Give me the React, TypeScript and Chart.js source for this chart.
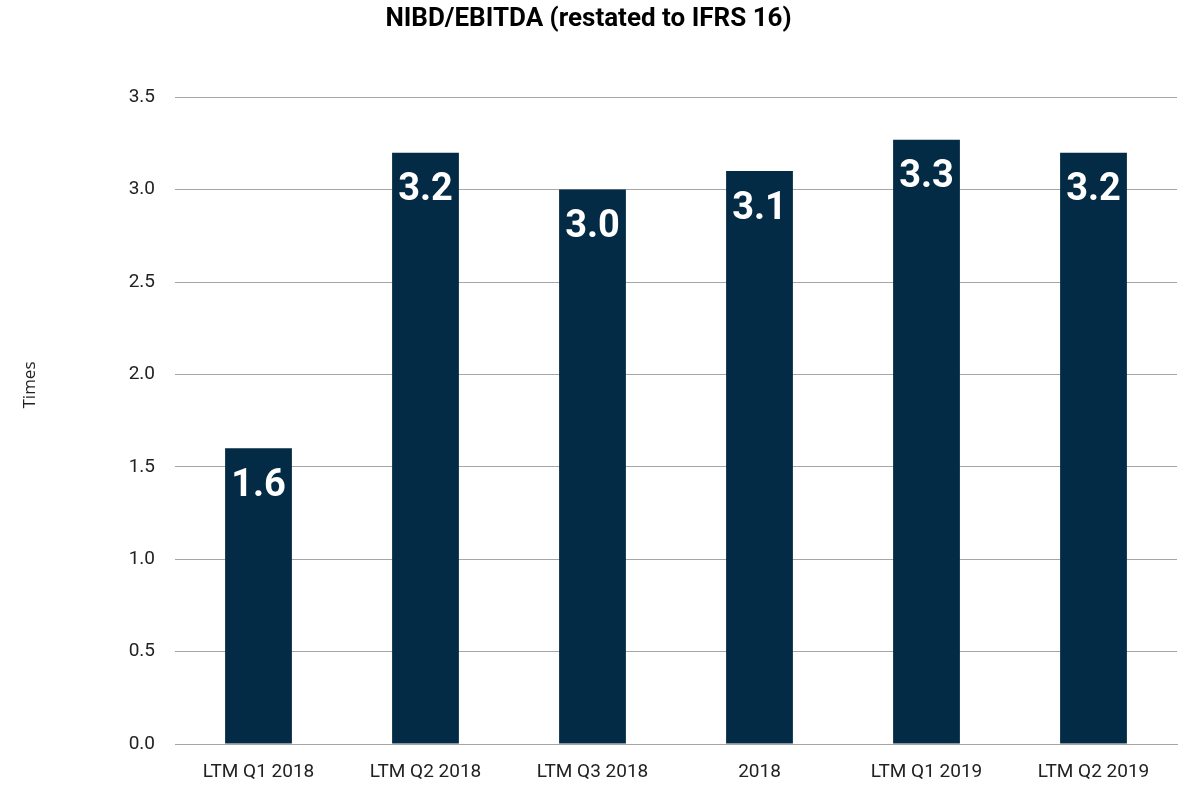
import React, { useEffect, useRef } from "react";
import { Chart, registerables } from "chart.js";

Chart.register(...registerables);

const categories = ["LTM Q1 2018", "LTM Q2 2018", "LTM Q3 2018", "2018", "LTM Q1 2019", "LTM Q2 2019"];
const values = [1.6, 3.2, 3.0, 3.1, 3.27, 3.2];
const chartTitle = "NIBD/EBITDA (restated to IFRS 16)";
const yAxisTitle = "Times";

const BAR_COLOR = "#042b45";
const GRID_COLOR = "#a6a6a6";
const FONT = "Roboto, 'DejaVu Sans', sans-serif";

const barLabelPlugin = {
  id: "barLabels",
  afterDatasetsDraw(chart: any) {
    const ctx = chart.ctx;
    const meta = chart.getDatasetMeta(0);
    ctx.save();
    ctx.fillStyle = "#ffffff";
    ctx.font = `bold 38px ${FONT}`;
    ctx.textAlign = "center";
    ctx.textBaseline = "middle";
    meta.data.forEach((bar: any, i: number) => {
      const v = chart.data.datasets[0].data[i] as number;
      ctx.fillText(v.toFixed(1), bar.x, bar.y + 38);
    });
    ctx.restore();
  },
};

const yTitlePlugin = {
  id: "yTitle",
  afterDraw(chart: any) {
    const ctx = chart.ctx;
    ctx.save();
    ctx.fillStyle = "#222222";
    ctx.font = `17px 'Open Sans', sans-serif`;
    ctx.textAlign = "center";
    ctx.textBaseline = "middle";
    ctx.translate(30, 385);
    ctx.rotate(-Math.PI / 2);
    ctx.fillText(yAxisTitle, 0, 0);
    ctx.restore();
  },
};

export default function App() {
  const ref = useRef<HTMLCanvasElement>(null);
  useEffect(() => {
    if (!ref.current) return;
    const chart = new Chart(ref.current, {
      type: "bar",
      data: {
        labels: categories,
        datasets: [
          {
            data: values,
            backgroundColor: BAR_COLOR,
            barPercentage: 0.4,
            categoryPercentage: 1,
          },
        ],
      },
      plugins: [barLabelPlugin, yTitlePlugin],
      options: {
        animation: false,
        responsive: false,
        maintainAspectRatio: false,
        layout: { padding: { left: 0, right: 12, top: 0, bottom: 0 } },
        plugins: {
          legend: { display: false },
          tooltip: { enabled: false },
          title: {
            display: true,
            text: chartTitle,
            color: "#000000",
            font: { family: FONT, size: 26, weight: "bold", lineHeight: 1.2 },
            padding: { top: 4, bottom: 62 },
          },
        },
        scales: {
          x: {
            grid: { display: false, drawTicks: false },
            border: { display: true, color: GRID_COLOR, width: 1 },
            ticks: {
              color: "#222222",
              font: { family: FONT, size: 19 },
              padding: 17,
              maxRotation: 0,
            },
            afterFit(scale: any) {
              scale.height = 41;
            },
          },
          y: {
            min: 0,
            max: 3.5,
            ticks: {
              stepSize: 0.5,
              color: "#222222",
              font: { family: FONT, size: 19 },
              padding: 20,
              callback: (v: any) => Number(v).toFixed(1),
            },
            grid: { color: GRID_COLOR, drawTicks: false, lineWidth: 1 },
            border: { display: false },
            afterFit(scale: any) {
              scale.width = 175;
            },
          },
        },
      },
    });
    return () => chart.destroy();
  }, []);
  return (
    <div style={{ position: "fixed", left: 0, top: 0, width: 1189, height: 785, background: "#fff" }}>
      <canvas ref={ref} width={1189} height={785} style={{ display: "block" }} />
    </div>
  );
}
